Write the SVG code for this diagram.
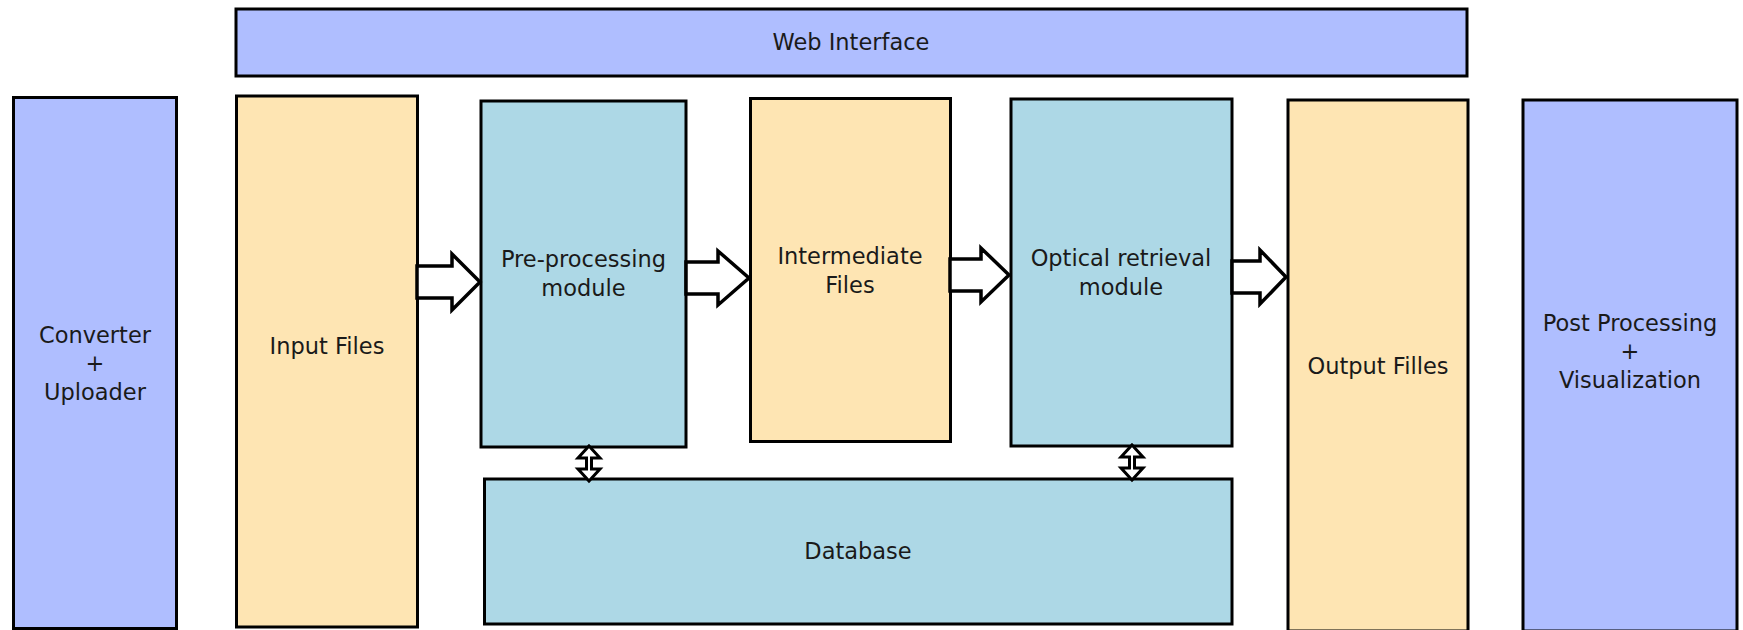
<svg xmlns="http://www.w3.org/2000/svg" width="1743" height="630" viewBox="0 0 1743 630">
  <style>
    .box { stroke: #000; stroke-width: 3; }
    .ui { fill: #afbeff; }
    .file { fill: #fee5b3; }
    .proc { fill: #add8e6; }
    .lbl { font-family: "DejaVu Sans", "Liberation Sans", sans-serif; font-size: 22.5px; fill: #1a1a1a; text-anchor: middle; }
    .flow { fill: #fff; stroke: #000; stroke-width: 3.5; stroke-linejoin: miter; }
    .link { fill: #fff; stroke: #000; stroke-width: 3; stroke-linejoin: miter; }
  </style>
  <rect width="1743" height="630" fill="#fff"/>

  <g id="web-interface">
    <rect class="box ui" x="236" y="9" width="1231" height="67"/>
    <text class="lbl" x="851" y="50">Web Interface</text>
  </g>

  <g id="converter-uploader">
    <rect class="box ui" x="13.5" y="97.5" width="163" height="531"/>
    <text class="lbl" x="95" y="343">Converter</text>
    <text class="lbl" x="95" y="371">+</text>
    <text class="lbl" x="95" y="400">Uploader</text>
  </g>

  <g id="input-files">
    <rect class="box file" x="236.5" y="96" width="181" height="531"/>
    <text class="lbl" x="327" y="354">Input Files</text>
  </g>

  <g id="pre-processing">
    <rect class="box proc" x="481" y="101" width="205" height="346"/>
    <text class="lbl" x="583.5" y="267">Pre-processing</text>
    <text class="lbl" x="583.5" y="296">module</text>
  </g>

  <g id="intermediate-files">
    <rect class="box file" x="750.5" y="98.5" width="200" height="343"/>
    <text class="lbl" x="850" y="264">Intermediate</text>
    <text class="lbl" x="850" y="293">Files</text>
  </g>

  <g id="optical-retrieval">
    <rect class="box proc" x="1011" y="99" width="221" height="347"/>
    <text class="lbl" x="1121" y="266">Optical retrieval</text>
    <text class="lbl" x="1121" y="295">module</text>
  </g>

  <g id="output-files">
    <rect class="box file" x="1288" y="100" width="180" height="531"/>
    <text class="lbl" x="1378" y="374">Output Filles</text>
  </g>

  <g id="post-processing">
    <rect class="box ui" x="1523" y="100" width="214" height="531"/>
    <text class="lbl" x="1630" y="331">Post Processing</text>
    <text class="lbl" x="1630" y="359">+</text>
    <text class="lbl" x="1630" y="388">Visualization</text>
  </g>

  <g id="database">
    <rect class="box proc" x="484.5" y="479" width="747.5" height="145"/>
    <text class="lbl" x="858" y="559">Database</text>
  </g>

  <g id="connectors">
    <!-- hollow block arrows along the processing chain -->
    <path class="flow" d="M417,266 L452,266 L452,254 L480,282 L452,310 L452,298 L417,298 Z"/>
    <path class="flow" d="M686,262 L718,262 L718,251 L749,278 L718,305 L718,294 L686,294 Z"/>
    <path class="flow" d="M950,259 L981,259 L981,248 L1009,275 L981,302 L981,291 L950,291 Z"/>
    <path class="flow" d="M1232,261 L1260,261 L1260,250 L1286,277 L1260,304 L1260,293 L1232,293 Z"/>
    <!-- two-way links to the database -->
    <path class="link" d="M589,446 L600,458 L591.5,458 L591.5,469 L600,469 L589,481 L578,469 L586.5,469 L586.5,458 L578,458 Z"/>
    <path class="link" d="M1132,445 L1143,457 L1134.5,457 L1134.5,468 L1143,468 L1132,480 L1121,468 L1129.5,468 L1129.5,457 L1121,457 Z"/>
  </g>
</svg>
